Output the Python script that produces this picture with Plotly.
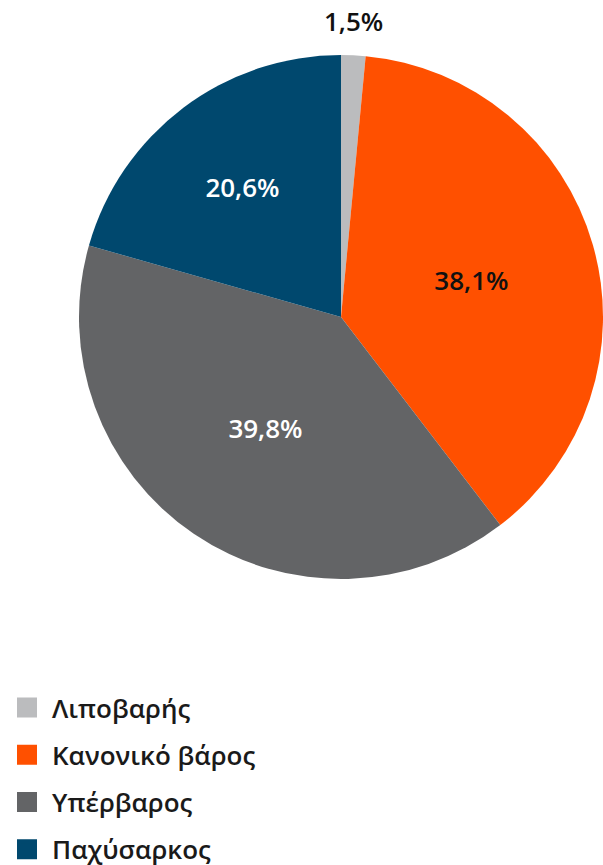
import math
import plotly.graph_objects as go

labels = ["Λιποβαρής", "Κανονικό βάρος", "Υπέρβαρος", "Παχύσαρκος"]
values = [1.5, 38.1, 39.8, 20.6]
colors = ["#BBBCBE", "#FF5000", "#636466", "#00486E"]
text_colors = ["#111111", "#111111", "#FFFFFF", "#FFFFFF"]
text_positions = ["none", "inside", "inside", "inside"]

W, H = 603, 865
cx, cy, R = 341, 317, 262
dom_x = [(cx - R) / W, 1.0]
dom_y = [(H - (cy + R)) / H, (H - (cy - R)) / H]

fig = go.Figure()
fig.add_trace(go.Pie(
    labels=labels, values=values, sort=False, direction="clockwise", rotation=0,
    marker=dict(colors=colors, line=dict(width=0)),
    texttemplate="%{value:.1f}%", textposition=text_positions,
    textfont=dict(family="Open Sans", size=26, color=text_colors, weight=600),
    insidetextorientation="horizontal",
    domain=dict(x=dom_x, y=dom_y),
    showlegend=False, hoverinfo="label+percent",
))

# label of the small slice, placed above the slice at its mid angle
total = sum(values)
mid = (values[0] / 2) / total * 2 * math.pi
pcx = (dom_x[0] + dom_x[1]) / 2
pcy = (dom_y[0] + dom_y[1]) / 2
rx = (dom_x[1] - dom_x[0]) / 2
ry = (dom_y[1] - dom_y[0]) / 2
fig.add_annotation(
    x=pcx + rx * math.sin(mid), y=pcy + ry * math.cos(mid),
    xref="paper", yref="paper", xanchor="center", yanchor="bottom", yshift=14,
    text=f"{values[0]:.1f}%".replace(".", ","), showarrow=False,
    font=dict(family="Open Sans", size=26, color=text_colors[0], weight=600),
)

for lab, col in zip(labels, colors):
    fig.add_trace(go.Scatter(
        x=[None], y=[None], mode="markers", name=lab, legendgroup=lab,
        marker=dict(symbol="square", size=16, color=col, line=dict(width=4, color=col)),
    ))

fig.update_layout(
    width=W, height=H, margin=dict(l=0, r=0, t=0, b=0, autoexpand=False),
    paper_bgcolor="white", plot_bgcolor="white",
    separators=",.",
    xaxis=dict(visible=False), yaxis=dict(visible=False),
    legend=dict(x=2 / W, xanchor="left", y=(H - 684) / H, yanchor="top",
                font=dict(family="Open Sans", size=26, color="#1a1a1a", weight=600),
                tracegroupgap=10.5, itemwidth=40, bgcolor="rgba(0,0,0,0)"),
    font=dict(family="Open Sans"),
)
fig.write_html("out.html")
